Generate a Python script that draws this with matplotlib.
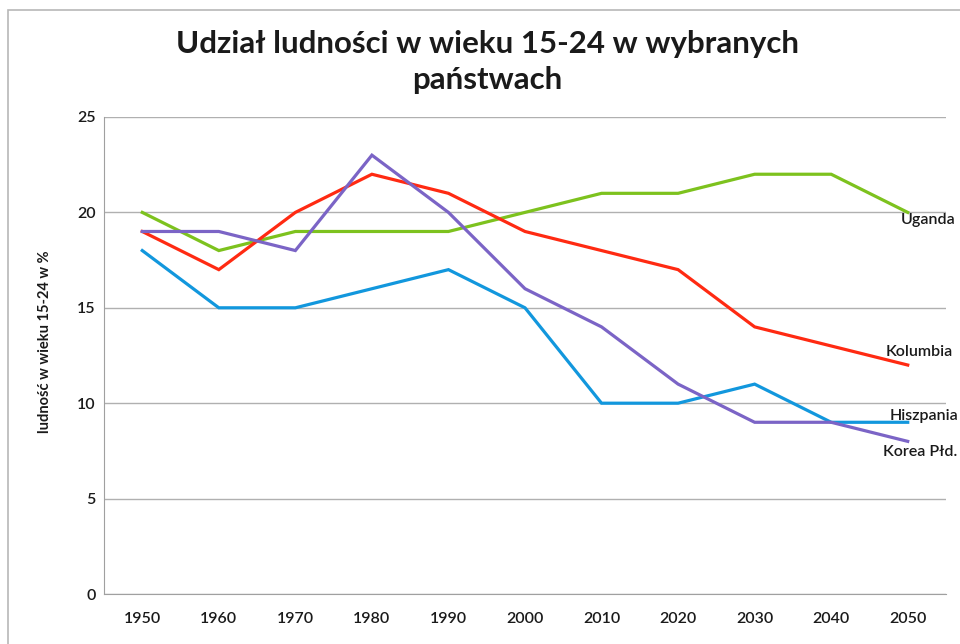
import matplotlib
matplotlib.use("Agg")
import matplotlib.pyplot as plt
from matplotlib.patches import Rectangle

years = ["1950", "1960", "1970", "1980", "1990", "2000", "2010", "2020", "2030", "2040", "2050"]
uganda = [20, 18, 19, 19, 19, 20, 21, 21, 22, 22, 20]
kolumbia = [19, 17, 20, 22, 21, 19, 18, 17, 14, 13, 12]
hiszpania = [18, 15, 15, 16, 17, 15, 10, 10, 11, 9, 9]
korea = [19, 19, 18, 23, 20, 16, 14, 11, 9, 9, 8]
y_ticks = [0, 5, 10, 15, 20, 25]

plt.rcParams['font.family'] = ['Lato', 'DejaVu Sans']

fig = plt.figure(figsize=(9.6, 6.44), dpi=100)
fig.patches.append(Rectangle((8 / 960, -0.5), 2.0, 1.5 - 10 / 644, transform=fig.transFigure,
                             fill=False, edgecolor='#b8b8b8', linewidth=1.2))

ax = fig.add_axes([104 / 960, 1 - 594 / 644, (946 - 104) / 960, (594 - 117) / 644])
x = list(range(len(years)))

series = [
    ("Uganda", uganda, '#7dc21e', (20, -8)),
    ("Kolumbia", kolumbia, '#ff2a12', (12, 13)),
    ("Hiszpania", hiszpania, '#1297dd', (16, 6)),
    ("Korea Płd.", korea, '#7b64c6', (12, -11)),
]
for name, vals, col, off in series:
    ax.plot(x, vals, color=col, linewidth=2.3, solid_joinstyle='miter', zorder=3)
    ax.annotate(name, xy=(x[-1], vals[-1]), xytext=off, textcoords='offset pixels',
                ha='center', va='center', fontsize=11.5, fontweight='semibold',
                color='#1a1a1a', annotation_clip=False, zorder=4)

ax.set_xlim(-0.5, len(years) - 0.5)
ax.set_ylim(0, 25)
ax.set_yticks(y_ticks)
ax.set_xticks(x)
ax.set_xticklabels(years)
ax.grid(axis='y', color='#b0b0b0', linewidth=1.0)
ax.set_axisbelow(True)
for s in ['top', 'right']:
    ax.spines[s].set_visible(False)
ax.spines['left'].set_color('#a0a0a0')
ax.spines['bottom'].set_color('#a0a0a0')
ax.tick_params(axis='both', length=0, labelsize=11.5, colors='#1a1a1a')
ax.tick_params(axis='x', pad=13)
ax.tick_params(axis='y', pad=6)
for lab in ax.get_xticklabels() + ax.get_yticklabels():
    lab.set_fontweight('semibold')

ax.set_ylabel("ludność w wieku 15-24 w %", fontsize=10.5, fontweight='bold', color='#1a1a1a')
ax.yaxis.set_label_coords(-0.062, 0.53)

fig.text(487 / 960, 1 - 62 / 644, "Udział ludności w wieku 15-24 w wybranych\npaństwach",
         ha='center', va='center', fontsize=22.5, fontweight='bold', color='#1a1a1a',
         linespacing=1.32)

fig.savefig("out.png", dpi=100, facecolor='white')
